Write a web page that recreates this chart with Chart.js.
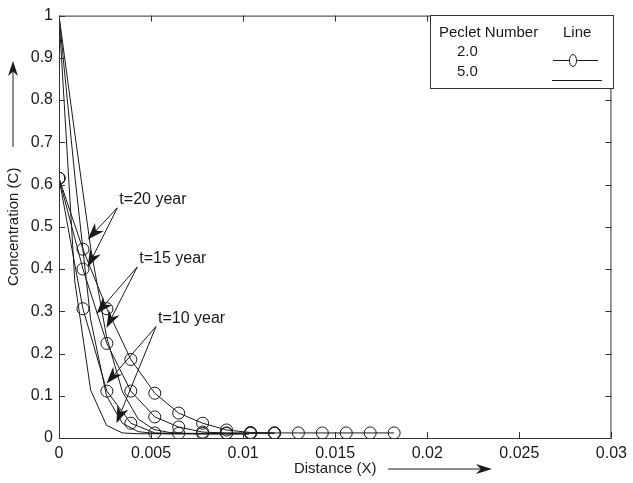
<!DOCTYPE html>
<html>
<head>
<meta charset="utf-8">
<script src="https://cdn.jsdelivr.net/npm/chart.js@4.4.0/dist/chart.umd.min.js"></script>
<style>
  body { margin: 0; background: #fff; }
  #wrap { width: 633px; height: 483px; }
</style>
</head>
<body>
<div id="wrap"><canvas id="chart" width="633" height="483"></canvas></div>
<script>
// Peclet number 2.0 (circles), sampled every 0.0013
const distancePe2 = [0, 0.0013, 0.0026, 0.0039, 0.0052, 0.0065, 0.0078, 0.0091, 0.0104, 0.0117, 0.013, 0.0143, 0.0156, 0.0169, 0.0182];
const pe2Year20 = [0.615, 0.447, 0.306, 0.186, 0.106, 0.059, 0.035, 0.019, 0.013, 0.012, 0.012, 0.012, 0.012, 0.012, 0.012];
const pe2Year15 = [0.615, 0.400, 0.224, 0.111, 0.050, 0.026, 0.014, 0.012, 0.012, 0.012];
const pe2Year10 = [0.615, 0.306, 0.111, 0.035, 0.012, 0.011, 0.011, 0.011, 0.011, 0.011];

// Peclet number 5.0 (plain lines)
const distancePe5 = [0, 0.00086, 0.00172, 0.00258, 0.00344, 0.0043, 0.00516, 0.00602, 0.00688, 0.00774, 0.0086, 0.00946, 0.01032];
const pe5Year20 = [1, 0.72, 0.45, 0.24, 0.11, 0.045, 0.02, 0.013, 0.011, 0.01, 0.01, 0.01, 0.01];
const pe5Year15 = [1, 0.62, 0.28, 0.10, 0.035, 0.015, 0.011, 0.01, 0.01, 0.01, 0.01, 0.01, 0.01];
const pe5Year10 = [1, 0.37, 0.113, 0.03, 0.012, 0.01, 0.01, 0.01, 0.01, 0.01, 0.01, 0.01, 0.01];

const xTicks = [0, 0.005, 0.01, 0.015, 0.02, 0.025, 0.03];
const xTickLabels = ['0', '0.005', '0.01', '0.015', '0.02', '0.025', '0.03'];
const yTicks = [0, 0.1, 0.2, 0.3, 0.4, 0.5, 0.6, 0.7, 0.8, 0.9, 1];
const yTickLabels = ['0', '0.1', '0.2', '0.3', '0.4', '0.5', '0.6', '0.7', '0.8', '0.9', '1'];

// arrow labels: text, text anchor [x, y], arrow tips (data units)
const timeLabels = ['t=20 year', 't=15 year', 't=10 year'];
const labelAnchors = [[0.00317, 0.545], [0.00425, 0.405], [0.00527, 0.264]];
const arrowTips = [
    [[0.00156, 0.47], [0.00156, 0.405]],
    [[0.00204, 0.294], [0.00258, 0.261]],
    [[0.00258, 0.129], [0.00312, 0.035]]
];

const INK = '#1a1a1a';
const FONT = '"Liberation Sans", Arial, Helvetica, sans-serif';

function pairs(xs, ys) {
    return ys.map((y, i) => ({ x: xs[i], y: y }));
}

function circleSet(values) {
    return {
        data: pairs(distancePe2, values),
        borderColor: INK,
        borderWidth: 1,
        pointRadius: 6,
        pointStyle: 'circle',
        pointBackgroundColor: 'rgba(0,0,0,0)',
        pointBorderColor: INK,
        pointBorderWidth: 1,
        showLine: true,
        tension: 0
    };
}

function plainSet(values) {
    return {
        data: pairs(distancePe5, values),
        borderColor: INK,
        borderWidth: 1,
        pointRadius: 0,
        showLine: true,
        tension: 0
    };
}

function drawArrow(ctx, x0, y0, x1, y1, len, half) {
    const a = Math.atan2(y1 - y0, x1 - x0);
    ctx.beginPath();
    ctx.moveTo(x0, y0);
    ctx.lineTo(x1 - Math.cos(a) * len * 0.6, y1 - Math.sin(a) * len * 0.6);
    ctx.stroke();
    const bx = x1 - Math.cos(a) * len, by = y1 - Math.sin(a) * len;
    const nx = -Math.sin(a) * half, ny = Math.cos(a) * half;
    const mx = x1 - Math.cos(a) * len * 0.7, my = y1 - Math.sin(a) * len * 0.7;
    ctx.beginPath();
    ctx.moveTo(x1, y1);
    ctx.lineTo(bx + nx, by + ny);
    ctx.lineTo(mx, my);
    ctx.lineTo(bx - nx, by - ny);
    ctx.closePath();
    ctx.fill();
}

const decorations = {
    id: 'decorations',
    afterDraw(chart) {
        const ctx = chart.ctx;
        const xs = chart.scales.x, ys = chart.scales.y;
        const area = chart.chartArea;
        ctx.save();

        // frame with inward ticks
        ctx.strokeStyle = '#333';
        ctx.lineWidth = 1;
        ctx.strokeRect(area.left + 0.5, area.top + 0.5, area.right - area.left - 1, area.bottom - area.top);
        ctx.beginPath();
        xTicks.forEach(v => {
            const px = Math.round(xs.getPixelForValue(v)) + 0.5;
            ctx.moveTo(px, area.bottom); ctx.lineTo(px, area.bottom - 6);
            ctx.moveTo(px, area.top); ctx.lineTo(px, area.top + 6);
        });
        yTicks.forEach(v => {
            const py = Math.round(ys.getPixelForValue(v)) + 0.5;
            ctx.moveTo(area.left, py); ctx.lineTo(area.left + 6, py);
            ctx.moveTo(area.right, py); ctx.lineTo(area.right - 6, py);
        });
        ctx.stroke();

        // time labels with arrows
        ctx.fillStyle = INK;
        ctx.strokeStyle = INK;
        ctx.font = '16px ' + FONT;
        ctx.textBaseline = 'bottom';
        ctx.textAlign = 'left';
        timeLabels.forEach((txt, i) => {
            const ax = xs.getPixelForValue(labelAnchors[i][0]);
            const ay = ys.getPixelForValue(labelAnchors[i][1]);
            ctx.fillText(txt, ax + 2, ay);
            arrowTips[i].forEach(t => {
                drawArrow(ctx, ax, ay, xs.getPixelForValue(t[0]), ys.getPixelForValue(t[1]), 17, 6);
            });
        });

        // axis direction arrows
        drawArrow(ctx, 13, 147, 13, 61, 15, 5);
        drawArrow(ctx, 388, 469, 492, 469, 16, 5);

        // legend box
        const lx = 430, ly = 15, lw = 183, lh = 73;
        ctx.fillStyle = '#fff';
        ctx.fillRect(lx, ly, lw, lh);
        ctx.strokeStyle = '#333';
        ctx.strokeRect(lx + 0.5, ly + 0.5, lw, lh);
        ctx.fillStyle = INK;
        ctx.font = '15px ' + FONT;
        ctx.textBaseline = 'middle';
        ctx.fillText('Peclet Number', 439, 33);
        ctx.fillText('Line', 563, 33);
        ctx.fillText('2.0', 457, 52);
        ctx.fillText('5.0', 457, 72);
        ctx.strokeStyle = INK;
        ctx.beginPath();
        ctx.moveTo(553, 60.5); ctx.lineTo(598, 60.5);
        ctx.moveTo(552, 80.5); ctx.lineTo(602, 80.5);
        ctx.stroke();
        ctx.beginPath();
        ctx.fillStyle = '#fff';
        ctx.ellipse(573, 60.5, 3.5, 6, 0, 0, Math.PI * 2);
        ctx.fill();
        ctx.stroke();

        ctx.restore();
    }
};

const ctx = document.getElementById('chart').getContext('2d');

const concentrationChart = new Chart(ctx, {
    type: 'scatter',
    data: {
        datasets: [
            circleSet(pe2Year20),
            circleSet(pe2Year15),
            circleSet(pe2Year10),
            plainSet(pe5Year20),
            plainSet(pe5Year15),
            plainSet(pe5Year10)
        ]
    },
    options: {
        responsive: false,
        animation: false,
        layout: { padding: { top: 13, right: 16, left: 0, bottom: 0 } },
        plugins: {
            legend: { display: false },
            tooltip: { enabled: false }
        },
        scales: {
            x: {
                type: 'linear',
                min: 0,
                max: 0.03,
                afterFit: s => { s.height = 45; },
                afterBuildTicks: s => { s.ticks = xTicks.map(v => ({ value: v })); },
                ticks: {
                    color: INK,
                    padding: 6,
                    maxRotation: 0,
                    font: { family: FONT, size: 16 },
                    callback: (v) => xTickLabels[xTicks.indexOf(v)]
                },
                grid: { display: false, drawTicks: false },
                border: { display: false },
                title: {
                    display: true,
                    text: 'Distance (X)',
                    color: INK,
                    font: { family: FONT, size: 15 },
                    padding: { top: 0, bottom: 5 }
                }
            },
            y: {
                type: 'linear',
                min: 0,
                max: 1,
                afterFit: s => { s.width = 59; },
                afterBuildTicks: s => { s.ticks = yTicks.map(v => ({ value: v })); },
                ticks: {
                    color: INK,
                    padding: 6,
                    font: { family: FONT, size: 16 },
                    callback: (v) => yTickLabels[yTicks.indexOf(v)]
                },
                grid: { display: false, drawTicks: false },
                border: { display: false },
                title: {
                    display: true,
                    text: 'Concentration (C)',
                    color: INK,
                    font: { family: FONT, size: 15 },
                    padding: { top: 5, bottom: 0 }
                }
            }
        }
    },
    plugins: [decorations]
});
</script>
</body>
</html>
